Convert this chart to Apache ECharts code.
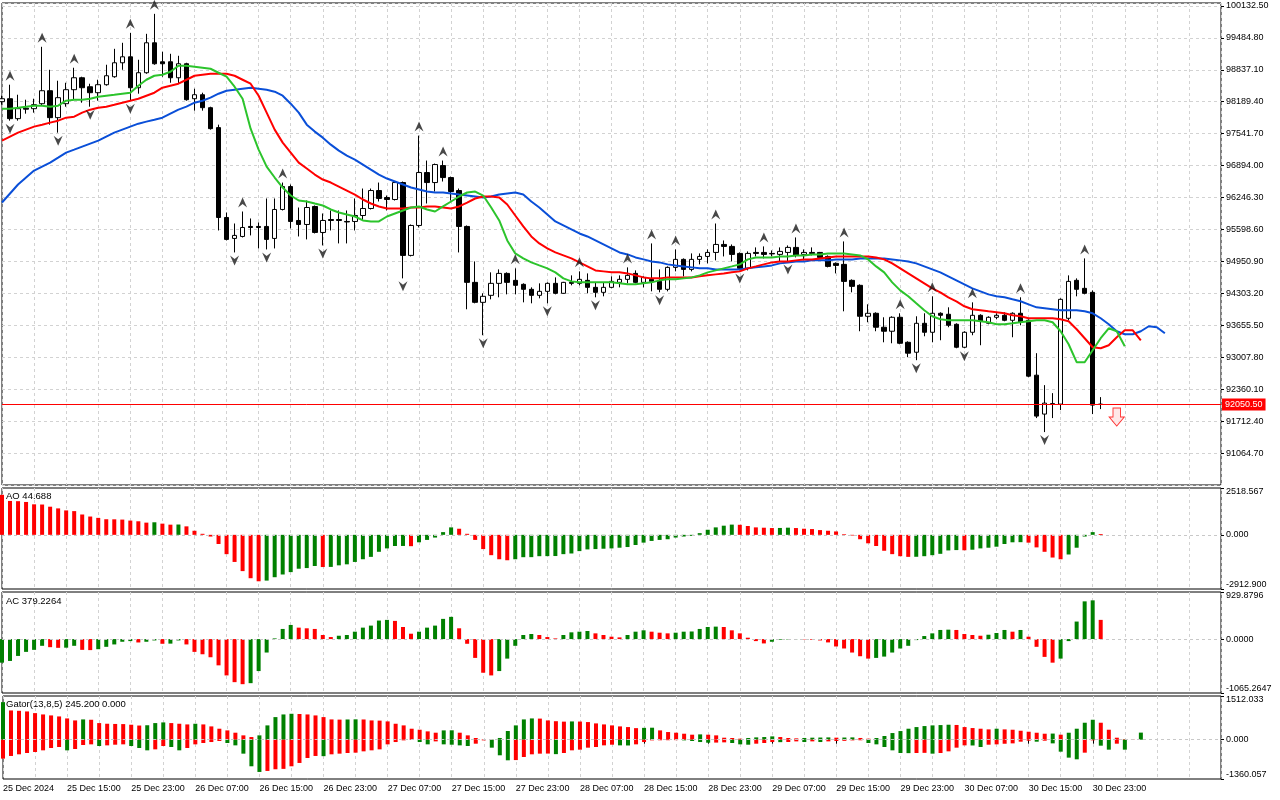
<!DOCTYPE html>
<html>
<head>
<meta charset="utf-8">
<title>Alligator / AO / AC / Gator</title>
<script src="https://cdn.jsdelivr.net/npm/echarts@6/dist/echarts.min.js"></script>
<style>
html, body { margin: 0; padding: 0; background: #fff; }
#chart { width: 1280px; height: 800px; }
</style>
</head>
<body>
<div id="chart"></div>
<script>
// time axis labels, one every 8 hourly bars
var xLabels = ['25 Dec 2024', '25 Dec 15:00', '25 Dec 23:00', '26 Dec 07:00', '26 Dec 15:00', '26 Dec 23:00',
  '27 Dec 07:00', '27 Dec 15:00', '27 Dec 23:00', '28 Dec 07:00', '28 Dec 15:00', '28 Dec 23:00',
  '29 Dec 07:00', '29 Dec 15:00', '29 Dec 23:00', '30 Dec 07:00', '30 Dec 15:00', '30 Dec 23:00'];

// hourly candles
var opens = [98190, 98250, 97846, 98058, 98048, 98149, 98412, 97866, 98149, 98433,
  98675, 98493, 98372, 98534, 98696, 98979, 99100, 98473, 98777, 99384,
  98999, 98999, 98675, 98959, 98250, 98331, 98068, 97664, 95842, 95417,
  95457, 95660, 95660, 95660, 95417, 96004, 96469, 95781, 95700, 96065,
  95538, 95801, 95801, 95761, 95761, 95882, 96024, 96388, 96247, 96206,
  96550, 95073, 95680, 96753, 96550, 96894, 96651, 96388, 95660, 94526,
  94121, 94263, 94506, 94708, 94567, 94486, 94385, 94263, 94344, 94506,
  94304, 94526, 94506, 94567, 94425, 94324, 94425, 94526, 94587, 94708,
  94526, 94587, 94546, 94385, 94830, 94992, 94789, 94992, 95052, 95133,
  95295, 95255, 95113, 94810, 95133, 95133, 95113, 95093, 95133, 95235,
  95093, 95133, 95133, 95052, 94911, 94891, 94567, 94466, 93838, 93899,
  93616, 93535, 93818, 93311, 93109, 93696, 93514, 93899, 93879, 93676,
  93210, 93514, 93858, 93696, 93818, 93858, 93757, 93899, 93757, 92644,
  91855, 92057, 92057, 93798, 94567, 94405, 94324, 92057];
var closes = [98250, 97846, 98048, 98038, 98129, 98412, 97866, 98271, 98433, 98675,
  98473, 98372, 98534, 98716, 98979, 99100, 98473, 98777, 99384, 98959,
  98959, 98675, 98959, 98230, 98331, 98068, 97643, 95842, 95397, 95478,
  95639, 95639, 95639, 95397, 96004, 96469, 95761, 95700, 96044, 95538,
  95781, 95781, 95781, 95751, 95882, 96024, 96388, 96227, 96206, 96550,
  95073, 95680, 96753, 96550, 96915, 96651, 96368, 95660, 94526, 94121,
  94243, 94506, 94708, 94526, 94466, 94385, 94263, 94344, 94506, 94304,
  94526, 94506, 94587, 94425, 94324, 94425, 94546, 94587, 94668, 94526,
  94627, 94546, 94385, 94830, 94992, 94789, 94992, 95052, 95133, 95295,
  95255, 95093, 94810, 95113, 95113, 95093, 95103, 95154, 95235, 95073,
  95133, 95113, 95032, 94850, 94870, 94546, 94445, 93838, 93899, 93616,
  93535, 93818, 93291, 93090, 93696, 93514, 93899, 93858, 93656, 93210,
  93514, 93858, 93737, 93818, 93858, 93757, 93899, 93717, 92624, 91814,
  92077, 92067, 94182, 94546, 94385, 94304, 92037, 92050.5];
var lows = [98129, 97805, 97805, 97947, 97967, 98109, 97724, 97562, 98088, 98230,
  98169, 98088, 98210, 98514, 98675, 98837, 98210, 98352, 98756, 98939,
  98696, 98574, 98554, 98210, 98008, 98008, 97623, 95579, 95376, 95133,
  95437, 95478, 95214, 95194, 95214, 95984, 95619, 95457, 95397, 95518,
  95275, 95579, 95316, 95316, 95579, 95781, 96004, 96166, 95984, 96186,
  94607, 95052, 95639, 96125, 96368, 96571, 96186, 95133, 93980, 94101,
  93454, 94182, 94223, 94283, 94283, 94121, 94101, 94202, 94101, 94283,
  94294, 94466, 94466, 94304, 94223, 94243, 94405, 94425, 94506, 94506,
  94425, 94344, 94324, 94344, 94749, 94648, 94749, 94891, 94911, 94972,
  95052, 94951, 94769, 94769, 95052, 95012, 95052, 94951, 94951, 95032,
  94972, 95073, 95012, 94830, 94708, 93939, 94324, 93535, 93717, 93535,
  93311, 93291, 93271, 93009, 92948, 93433, 93311, 93352, 93616, 93190,
  93190, 93454, 93251, 93676, 93777, 93737, 93413, 93656, 92604, 91774,
  91490, 91774, 91936, 93757, 94243, 94283, 91855, 91956];
var highs = [98311, 98534, 98331, 98230, 98250, 99303, 98837, 98615, 98574, 98878,
  98696, 98554, 98635, 98939, 99262, 99384, 99586, 99040, 99566, 99971,
  99202, 99161, 99121, 98979, 98453, 98372, 98088, 97724, 95943, 95720,
  95963, 95822, 95741, 96227, 96227, 96550, 96510, 96044, 96186, 96085,
  95923, 95984, 95984, 95984, 96227, 96429, 96429, 96550, 96287, 96571,
  96571, 95700, 97502, 96996, 96935, 96996, 96671, 96429, 95680, 94951,
  94304, 94729, 94789, 94729, 94810, 94506, 94425, 94506, 94526, 94627,
  94536, 94668, 94749, 94708, 94526, 94526, 94648, 94668, 94830, 94769,
  94648, 95316, 94789, 94850, 95194, 95012, 95113, 95113, 95194, 95720,
  95376, 95295, 95133, 95154, 95235, 95255, 95174, 95235, 95275, 95437,
  95194, 95235, 95143, 95073, 94931, 95356, 94587, 94486, 94081, 93919,
  93818, 93838, 93899, 93331, 93838, 93899, 94243, 93919, 94020, 93696,
  93535, 94121, 93879, 93838, 93899, 93919, 93919, 94223, 93777, 93090,
  92442, 92280, 94202, 94668, 94607, 95012, 94364, 92199];

// Alligator lines as drawn (already shifted forward: 8, 5 and 3 bars)
var jaw = [96146, 96328, 96510, 96652, 96793, 96874, 96955, 97056, 97158, 97218,
  97279, 97340, 97400, 97481, 97562, 97623, 97684, 97744, 97785, 97825,
  97866, 97947, 98028, 98089, 98170, 98210, 98271, 98352, 98412, 98433,
  98453, 98473, 98453, 98433, 98392, 98311, 98149, 97967, 97724, 97583,
  97461, 97319, 97198, 97097, 97016, 96915, 96813, 96712, 96631, 96571,
  96510, 96449, 96409, 96368, 96348, 96348, 96328, 96307, 96287, 96267,
  96247, 96267, 96307, 96328, 96348, 96307, 96166, 96044, 95903, 95761,
  95680, 95599, 95518, 95457, 95376, 95295, 95214, 95133, 95093, 95032,
  94992, 94951, 94931, 94891, 94870, 94850, 94830, 94810, 94810, 94789,
  94789, 94789, 94789, 94810, 94830, 94850, 94870, 94911, 94931, 94951,
  94951, 94972, 94972, 94972, 94992, 94992, 94992, 95012, 95012, 95012,
  95012, 94992, 94972, 94951, 94911, 94850, 94789, 94729, 94648, 94567,
  94486, 94405, 94344, 94283, 94243, 94223, 94182, 94142, 94081, 94020,
  94000, 93980, 93960, 93960, 93960, 93939, 93899, 93798, 93676, 93535,
  93474, 93474, 93535, 93636, 93616, 93494];
var teeth = [97400, 97481, 97562, 97623, 97684, 97724, 97765, 97805, 97866, 97886,
  97967, 98028, 98068, 98089, 98129, 98170, 98210, 98250, 98311, 98372,
  98473, 98514, 98554, 98635, 98716, 98736, 98756, 98756, 98756, 98716,
  98635, 98554, 98311, 97967, 97623, 97360, 97158, 96955, 96834, 96712,
  96611, 96550, 96469, 96388, 96307, 96206, 96125, 96065, 96024, 96024,
  96024, 96044, 96044, 96065, 96065, 96044, 96024, 96065, 96145, 96227,
  96267, 96267, 96247, 96105, 95882, 95660, 95457, 95316, 95214, 95133,
  95073, 95012, 94931, 94850, 94769, 94749, 94729, 94729, 94708, 94668,
  94627, 94607, 94607, 94627, 94627, 94627, 94627, 94648, 94668, 94688,
  94708, 94729, 94749, 94810, 94850, 94891, 94931, 94951, 94951, 94972,
  94992, 94992, 95012, 95032, 95052, 95052, 95052, 95052, 95052, 95032,
  94992, 94911, 94810, 94708, 94607, 94506, 94405, 94324, 94223, 94142,
  94041, 93980, 93960, 93939, 93919, 93899, 93858, 93838, 93798, 93798,
  93798, 93798, 93777, 93737, 93575, 93393, 93210, 93190, 93251, 93413,
  93555, 93555, 93352];
var lips = [98048, 98048, 98068, 98089, 98109, 98109, 98089, 98109, 98210, 98230,
  98230, 98250, 98291, 98311, 98331, 98352, 98372, 98514, 98635, 98716,
  98736, 98797, 98918, 98918, 98898, 98878, 98858, 98777, 98696, 98493,
  98250, 97643, 97218, 96874, 96652, 96449, 96287, 96186, 96166, 96125,
  96085, 96004, 95943, 95903, 95862, 95781, 95761, 95761, 95862, 95923,
  95984, 96044, 96065, 96004, 95963, 96065, 96166, 96267, 96348, 96368,
  96287, 96044, 95781, 95376, 95113, 95012, 94931, 94870, 94810, 94729,
  94607, 94546, 94526, 94526, 94526, 94526, 94526, 94506, 94486, 94486,
  94506, 94526, 94567, 94587, 94587, 94607, 94627, 94668, 94729, 94769,
  94810, 94850, 94891, 94992, 95032, 95032, 95032, 95052, 95052, 95073,
  95073, 95093, 95093, 95113, 95113, 95113, 95093, 95073, 94992, 94850,
  94729, 94526, 94364, 94243, 94101, 93960, 93838, 93777, 93757, 93757,
  93757, 93757, 93737, 93717, 93676, 93676, 93696, 93717, 93737, 93757,
  93757, 93717, 93535, 93271, 92907, 92907, 93150, 93393, 93595, 93535,
  93231];

// bars carrying a fractal mark
var upFractals = [1, 5, 9, 16, 19, 30, 35, 52, 55, 64, 72, 78, 81, 84, 89, 95, 99, 105, 112, 116, 121, 127, 135];
var downFractals = [1, 7, 11, 16, 29, 33, 40, 50, 60, 68, 74, 82, 92, 98, 114, 120, 130];

// sell signal arrow
var sellBars = [139];
var sellPrices = [91795];
var lastPrice = 92050.5;

// oscillators
var aoValues = [2151, 1823, 1810, 1768, 1641, 1630, 1513, 1422, 1313, 1276,
  1094, 984, 912, 839, 835, 820, 766, 729, 656, 675,
  602, 547, 555, 456, 219, 55, -91, -492, -1039, -1458,
  -1951, -2333, -2498, -2461, -2279, -2133, -2005, -1823, -1787, -1677,
  -1732, -1725, -1641, -1586, -1458, -1313, -1185, -912, -729, -602,
  -598, -610, -401, -273, -146, 146, 401, 328, 55, -273,
  -766, -1094, -1313, -1367, -1313, -1203, -1200, -1149, -1145, -1140,
  -1039, -1003, -875, -784, -766, -747, -729, -693, -656, -547,
  -419, -328, -273, -237, -146, -91, -55, 91, 273, 401,
  492, 550, 540, 474, 401, 383, 365, 370, 385, 365,
  328, 310, 255, 219, 182, 36, -36, -237, -456, -602,
  -857, -1039, -1149, -1185, -1180, -1149, -1094, -1021, -839, -820,
  -830, -800, -729, -693, -638, -492, -401, -395, -420, -675,
  -912, -1221, -1313, -1057, -693, -91, 146, 44.688];
var acValues = [-466, -432, -333, -253, -213, -133, -160, -173, -170, -133,
  -213, -218, -200, -153, -106, -53, -40, -67, -53, -27,
  -93, -90, -27, -106, -253, -300, -359, -519, -718, -851,
  -891, -871, -632, -266, 13, 200, 279, 226, 213, 200,
  80, 40, 66, 80, 146, 226, 266, 366, 379, 359,
  239, 106, 146, 226, 266, 399, 439, 213, -93, -372,
  -665, -718, -632, -386, -133, 80, 100, 80, 40, 13,
  80, 133, 146, 160, 113, 80, 47, 33, 80, 146,
  173, 146, 126, 113, 126, 146, 150, 200, 239, 246,
  239, 173, 113, 27, -40, -86, -53, -13, -7, -3,
  -7, -13, -27, -66, -146, -186, -266, -339, -386, -372,
  -346, -266, -186, -133, -20, 60, 113, 180, 186, 180,
  100, 80, 66, 86, 120, 180, 146, 180, 47, -153,
  -352, -466, -386, -40, 346, 745, 765, 379.2264];
var gatorUp = [1300, 1012, 1000, 978, 920, 874, 840, 805, 736, 667,
  702, 690, 575, 552, 545, 540, 518, 490, 500, 575,
  598, 575, 552, 529, 552, 529, 460, 380, 322, 242,
  150, 92, 150, 495, 782, 874, 897, 890, 874, 840,
  782, 702, 695, 700, 705, 700, 667, 660, 633, 552,
  495, 380, 345, 288, 242, 322, 325, 242, 150, 58,
  12, 3, 60, 300, 495, 702, 736, 730, 667, 640,
  625, 632, 628, 610, 564, 529, 495, 460, 437, 400,
  410, 415, 322, 265, 242, 207, 173, 184, 173, 150,
  69, 58, 35, 58, 80, 92, 115, 92, 58, 46,
  60, 70, 75, 80, 70, 75, 80, 60, 35, 58,
  127, 230, 299, 380, 437, 472, 495, 506, 518, 510,
  437, 403, 380, 357, 380, 357, 345, 310, 276, 241,
  207, 212, 173, 241, 380, 587, 690, 587, 345, 69,
  20, 10, 245.2];
var gatorDown = [-655, -563, -506, -460, -425, -368, -288, -253, -368, -322,
  -184, -161, -219, -196, -173, -161, -219, -288, -368, -334,
  -219, -253, -368, -288, -161, -115, -81, -46, -115, -196,
  -483, -920, -1116, -1081, -1023, -1010, -920, -805, -633, -563,
  -570, -506, -483, -460, -449, -403, -368, -334, -161, -81,
  -23, -5, -81, -161, -58, -161, -173, -196, -219, -138,
  -23, -276, -540, -713, -705, -598, -506, -483, -480, -500,
  -460, -368, -345, -276, -253, -196, -173, -196, -200, -161,
  -81, -23, -20, -18, -15, -23, -46, -81, -104, -100,
  -92, -115, -161, -173, -138, -115, -81, -85, -80, -58,
  -81, -58, -81, -58, -46, -40, -23, -20, -115, -161,
  -253, -368, -460, -465, -460, -455, -483, -460, -403, -276,
  -196, -200, -253, -173, -161, -140, -127, -69, -35, -69,
  -35, -127, -414, -621, -679, -449, -23, -207, -345, -138,
  -345, 0, 0];

// window scales shown on the right
var priceMin = 90417.0, priceMax = 100191.0, priceStep = 647.7;
var aoMin = -2912.900, aoMax = 2518.567;
var acMin = -1065.2647, acMax = 929.8796;
var gatorMin = -1360.057, gatorMax = 1512.033;

var SLOTS = 153;
var GREEN = '#008000', RED = '#ff0000';
var FONT = "'Liberation Sans', Arial, sans-serif";
var GRID_LINE = { color: '#d2d2d2', type: [3, 3], width: 1 };

var cats = [];
for (var i = 0; i < SLOTS; i++) cats.push(String(i));

function barColors(vals, firstColor, byAbs) {
  var out = [];
  for (var i = 0; i < vals.length; i++) {
    if (i === 0) { out.push(firstColor); continue; }
    var a = byAbs ? Math.abs(vals[i]) : vals[i];
    var b = byAbs ? Math.abs(vals[i - 1]) : vals[i - 1];
    out.push(a > b ? GREEN : RED);
  }
  return out;
}
function histData(vals, colors) {
  return vals.map(function (v, i) { return { value: v, itemStyle: { color: colors[i] } }; });
}
function edgeFormatter(min, max, digits) {
  return function (v) {
    if (Math.abs(v - max) < 1e-6) return '{t|' + max.toFixed(digits) + '}';
    if (Math.abs(v - min) < 1e-6) return '{b|' + min.toFixed(digits) + '}';
    return v.toFixed(digits);
  };
}
var labelText = { fontFamily: FONT, fontSize: 9, color: '#000' };

function xAxisFor(k, last) {
  return {
    type: 'category', gridIndex: k, data: cats, boundaryGap: false,
    axisLine: { show: false },
    axisTick: {
      show: last, length: 4, lineStyle: { color: '#000' },
      interval: function (idx) { return idx % 8 === 0 && idx / 8 < xLabels.length; }
    },
    axisLabel: {
      show: last, align: 'left', margin: 5, fontFamily: FONT, fontSize: 9, color: '#000',
      interval: function (idx) { return idx % 8 === 0 && idx / 8 < xLabels.length; },
      formatter: function (val, idx) { return xLabels[idx / 8] || ''; }
    },
    splitLine: { show: true, lineStyle: GRID_LINE, interval: function (idx) { return idx % 4 === 0; } }
  };
}
function oscAxis(k, min, max, digits) {
  return {
    type: 'value', gridIndex: k, position: 'right', min: min, max: max,
    axisLine: { show: false },
    axisTick: { show: true, length: 3, customValues: [min, 0, max], lineStyle: { color: '#000' } },
    axisLabel: {
      customValues: [min, 0, max], margin: 5, fontFamily: FONT, fontSize: 9, color: '#000',
      formatter: edgeFormatter(min, max, digits),
      rich: {
        t: { fontFamily: FONT, fontSize: 9, color: '#000', padding: [8, 0, 0, 0] },
        b: { fontFamily: FONT, fontSize: 9, color: '#000', padding: [0, 0, 8, 0] }
      }
    },
    splitLine: { show: false }
  };
}
var zeroLine = {
  silent: true, symbol: ['none', 'none'], label: { show: false },
  lineStyle: { color: '#c8c8c8', type: [3, 3], width: 1 },
  data: [{ yAxis: 0 }]
};

var candles = opens.map(function (o, i) { return [o, closes[i], lows[i], highs[i]]; });
var upMarks = upFractals.map(function (i) { return [i, highs[i]]; });
var downMarks = downFractals.map(function (i) { return [i, lows[i]]; });
var sellMarks = sellBars.map(function (b, i) { return [b, sellPrices[i]]; });

var gridBox = { show: true, borderColor: '#000', borderWidth: 1, backgroundColor: '#fff' };

var chart = echarts.init(document.getElementById('chart'));
chart.setOption({
  animation: false,
  backgroundColor: '#fff',
  textStyle: { fontFamily: FONT },
  grid: [
    Object.assign({ left: 2, right: 59, top: 3, height: 482 }, gridBox),
    Object.assign({ left: 2, right: 59, top: 488, height: 101 }, gridBox),
    Object.assign({ left: 2, right: 59, top: 592, height: 101 }, gridBox),
    Object.assign({ left: 2, right: 59, top: 696, height: 83 }, gridBox)
  ],
  xAxis: [xAxisFor(0, false), xAxisFor(1, false), xAxisFor(2, false), xAxisFor(3, true)],
  yAxis: [
    {
      type: 'value', gridIndex: 0, position: 'right', min: priceMin, max: priceMax, interval: priceStep,
      axisLine: { show: false },
      axisTick: { show: true, length: 3, lineStyle: { color: '#000' } },
      axisLabel: {
        showMinLabel: false, showMaxLabel: false, margin: 5, fontFamily: FONT, fontSize: 9, color: '#000',
        formatter: function (v) { return v.toFixed(2); }
      },
      splitLine: { show: true, lineStyle: GRID_LINE }
    },
    oscAxis(1, aoMin, aoMax, 3),
    oscAxis(2, acMin, acMax, 4),
    oscAxis(3, gatorMin, gatorMax, 3)
  ],
  graphic: [
    { type: 'text', left: 6, top: 491, style: { text: 'AO 44.688', font: '9.5px ' + FONT, fill: '#000' } },
    { type: 'text', left: 6, top: 596, style: { text: 'AC 379.2264', font: '9.5px ' + FONT, fill: '#000' } },
    { type: 'text', left: 6, top: 699, style: { text: 'Gator(13,8,5) 245.200 0.000', font: '9.5px ' + FONT, fill: '#000' } }
  ],
  series: [
    {
      type: 'candlestick', xAxisIndex: 0, yAxisIndex: 0, data: candles, barWidth: 5,
      itemStyle: { color: '#fff', color0: '#000', borderColor: '#000', borderColor0: '#000', borderWidth: 1 },
      markLine: {
        silent: true, symbol: ['none', 'none'],
        lineStyle: { color: '#ff0000', type: 'solid', width: 1 },
        label: {
          show: true, position: 'end', distance: 1, formatter: lastPrice.toFixed(2),
          color: '#fff', backgroundColor: '#ff0000', padding: [2, 3, 1, 3], fontFamily: FONT, fontSize: 9
        },
        data: [{ yAxis: lastPrice }]
      }
    },
    { type: 'line', xAxisIndex: 0, yAxisIndex: 0, data: jaw, symbol: 'none', lineStyle: { color: '#0a4fd8', width: 2 } },
    { type: 'line', xAxisIndex: 0, yAxisIndex: 0, data: teeth, symbol: 'none', lineStyle: { color: '#ff0000', width: 2 } },
    { type: 'line', xAxisIndex: 0, yAxisIndex: 0, data: lips, symbol: 'none', lineStyle: { color: '#2cc42c', width: 2 } },
    {
      type: 'scatter', xAxisIndex: 0, yAxisIndex: 0, data: upMarks, z: 5,
      symbol: 'path://M5,0 L10,10 L5,6.5 L0,10 Z', symbolSize: [9, 10], symbolOffset: [0, -9],
      itemStyle: { color: '#1a1a1a' }
    },
    {
      type: 'scatter', xAxisIndex: 0, yAxisIndex: 0, data: downMarks, z: 5,
      symbol: 'path://M0,0 L5,3.5 L10,0 L5,10 Z', symbolSize: [9, 10], symbolOffset: [0, 8],
      itemStyle: { color: '#1a1a1a' }
    },
    {
      type: 'scatter', xAxisIndex: 0, yAxisIndex: 0, data: sellMarks, z: 6,
      symbol: 'path://M4,0 L12,0 L12,9 L16,9 L8,18 L0,9 L4,9 Z', symbolSize: [15, 18],
      itemStyle: { color: '#ffe2e2', borderColor: '#ff0000', borderWidth: 1 }
    },
    {
      type: 'bar', xAxisIndex: 1, yAxisIndex: 1, barWidth: 4,
      data: histData(aoValues, barColors(aoValues, RED, false)), markLine: zeroLine
    },
    {
      type: 'bar', xAxisIndex: 2, yAxisIndex: 2, barWidth: 4,
      data: histData(acValues, barColors(acValues, GREEN, false)), markLine: zeroLine
    },
    {
      type: 'bar', xAxisIndex: 3, yAxisIndex: 3, barWidth: 4, barGap: '-100%', stack: 'gator',
      data: histData(gatorUp, barColors(gatorUp, GREEN, false))
    },
    {
      type: 'bar', xAxisIndex: 3, yAxisIndex: 3, barWidth: 4, barGap: '-100%', stack: 'gator',
      data: histData(gatorDown, barColors(gatorDown, RED, true)), markLine: zeroLine
    }
  ]
});
</script>
</body>
</html>
